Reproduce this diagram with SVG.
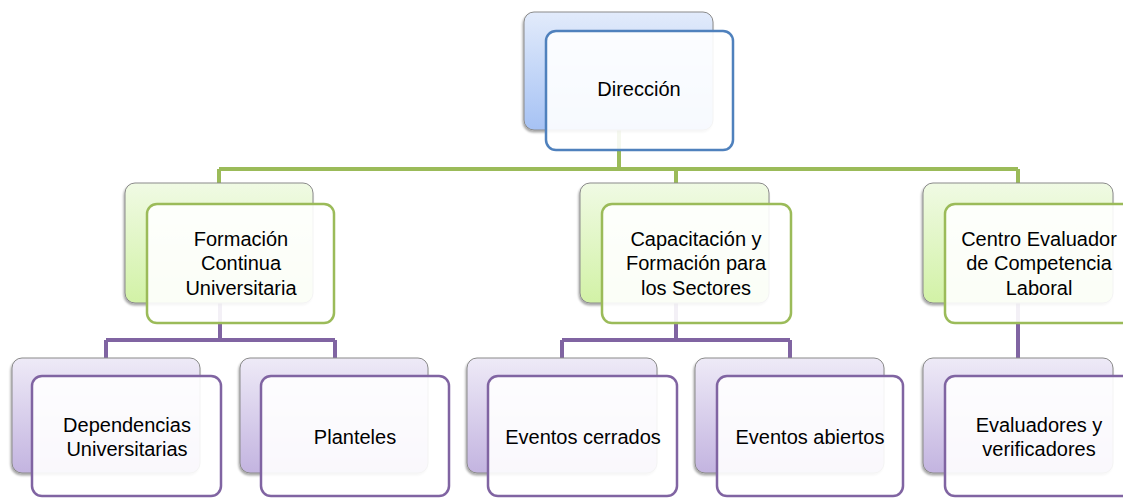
<svg xmlns="http://www.w3.org/2000/svg" width="1123" height="498" viewBox="0 0 1123 498">
<defs>
<linearGradient id="gBlue" x1="0" y1="0" x2="0" y2="1"><stop offset="0" stop-color="#e2ebfb"/><stop offset="1" stop-color="#a6c2f4"/></linearGradient>
<linearGradient id="gGreen" x1="0" y1="0" x2="0" y2="1"><stop offset="0" stop-color="#f0fae4"/><stop offset="1" stop-color="#d2f2a6"/></linearGradient>
<linearGradient id="gPurple" x1="0" y1="0" x2="0" y2="1"><stop offset="0" stop-color="#eeeaf7"/><stop offset="1" stop-color="#c3b4e0"/></linearGradient>
<filter id="sh" x="-10%" y="-10%" width="120%" height="120%"><feDropShadow dx="-1" dy="2" stdDeviation="1" flood-color="#000" flood-opacity="0.35"/></filter>
</defs>
<style>
.back{stroke:#8a8a8a;stroke-width:1;filter:url(#sh)}
.front{fill:#ffffff;fill-opacity:0.9;stroke-width:2.5}
.fb{stroke:#4f81bd}
.fg{stroke:#9bbb59}
.fp{stroke:#8064a2}
.cg{stroke:#9bbb59;stroke-width:4;fill:none}
.cp{stroke:#8064a2;stroke-width:4;fill:none}
text{font-family:"Liberation Sans",Arial,sans-serif;font-size:20px;fill:#000;text-anchor:middle}
</style>
<rect width="1123" height="498" fill="#ffffff"/>
<g id="connectors">
<path class="cg" d="M619 130V169M219 169H1018M219 169V183M676 169V183M1018 169V183"/>
<path class="cp" d="M220 303V340M106 340H335M106 340V358M335 340V358"/>
<path class="cp" d="M676 303V340M562 340H790M562 340V358M790 340V358"/>
<path class="cp" d="M1018 303V358"/>
</g>
<g id="direccion">
<rect class="back" x="524" y="12" width="189" height="118" rx="10" fill="url(#gBlue)"/>
<rect class="front fb" x="546" y="31" width="187" height="119" rx="10"/>
<text x="639" y="96">Dirección</text>
</g>
<g id="formacion">
<rect class="back" x="125" y="183" width="188" height="120" rx="10" fill="url(#gGreen)"/>
<rect class="front fg" x="147" y="204" width="187" height="119" rx="10"/>
<text x="241" y="246">Formación</text>
<text x="241" y="270">Continua</text>
<text x="241" y="295">Universitaria</text>
</g>
<g id="capacitacion">
<rect class="back" x="580" y="183" width="189" height="120" rx="10" fill="url(#gGreen)"/>
<rect class="front fg" x="602" y="204" width="189" height="119" rx="10"/>
<text x="696" y="246">Capacitación y</text>
<text x="696" y="270">Formación para</text>
<text x="696" y="295">los Sectores</text>
</g>
<g id="centro">
<rect class="back" x="923" y="183" width="190" height="120" rx="10" fill="url(#gGreen)"/>
<rect class="front fg" x="945" y="204" width="188" height="119" rx="10"/>
<text x="1039" y="246">Centro Evaluador</text>
<text x="1039" y="270">de Competencia</text>
<text x="1039" y="295">Laboral</text>
</g>
<g id="dependencias">
<rect class="back" x="12" y="358" width="188" height="115" rx="10" fill="url(#gPurple)"/>
<rect class="front fp" x="32" y="376" width="189" height="120" rx="10"/>
<text x="127" y="432">Dependencias</text>
<text x="127" y="456">Universitarias</text>
</g>
<g id="planteles">
<rect class="back" x="240" y="358" width="188" height="115" rx="10" fill="url(#gPurple)"/>
<rect class="front fp" x="261" y="376" width="188" height="120" rx="10"/>
<text x="355" y="444">Planteles</text>
</g>
<g id="eventos-cerrados">
<rect class="back" x="467" y="358" width="190" height="115" rx="10" fill="url(#gPurple)"/>
<rect class="front fp" x="488" y="376" width="189" height="120" rx="10"/>
<text x="583" y="444">Eventos cerrados</text>
</g>
<g id="eventos-abiertos">
<rect class="back" x="695" y="358" width="189" height="115" rx="10" fill="url(#gPurple)"/>
<rect class="front fp" x="717" y="376" width="186" height="120" rx="10"/>
<text x="810" y="444">Eventos abiertos</text>
</g>
<g id="evaluadores">
<rect class="back" x="923" y="358" width="190" height="115" rx="10" fill="url(#gPurple)"/>
<rect class="front fp" x="945" y="376" width="188" height="120" rx="10"/>
<text x="1039" y="432">Evaluadores y</text>
<text x="1039" y="456">verificadores</text>
</g>
</svg>
